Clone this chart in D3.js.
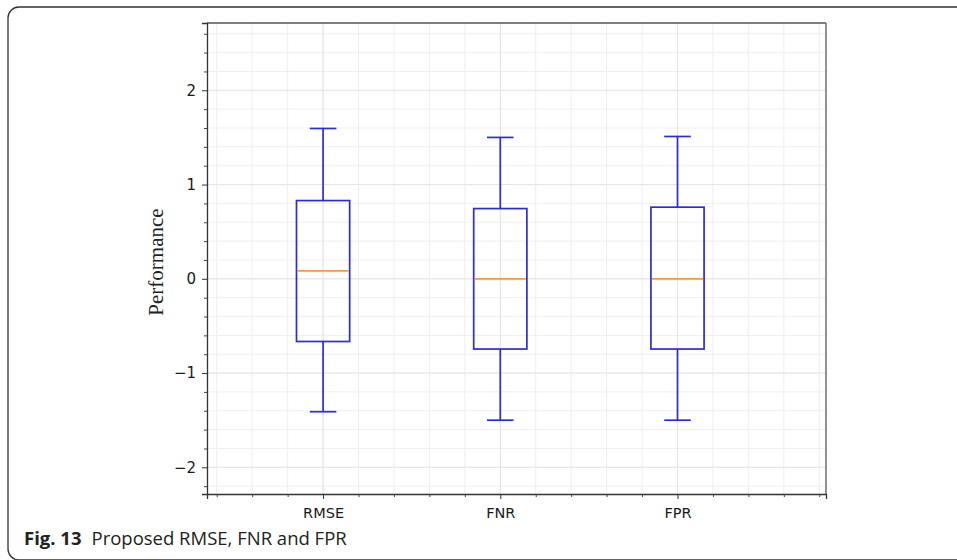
<!DOCTYPE html>
<html><head><meta charset="utf-8">
<script src="https://cdn.jsdelivr.net/npm/d3@7"></script>
<style>body{margin:0;background:#fff}</style>
</head><body>
<svg id="c" width="957" height="560"></svg>
<script>
const categories = ["RMSE", "FNR", "FPR"];
const whiskerLow = [-1.41, -1.50, -1.50];
const q1 = [-0.665, -0.745, -0.745];
const median = [0.085, 0.0, 0.0];
const q3 = [0.83, 0.745, 0.76];
const whiskerHigh = [1.595, 1.50, 1.51];
const yTicks = [-2, -1, 0, 1, 2];

(function () {
const svg = d3.select("#c");
const pL = 207, pR = 826, pT = 23, pB = 494;
const x = d3.scaleLinear().domain([0.345, 3.838]).range([pL, pR]);
const y = d3.scaleLinear().domain([-2.283, 2.714]).range([pB, pT]);

svg.append("rect").attr("x", 8).attr("y", 7).attr("width", 1000).attr("height", 553)
  .attr("rx", 11).attr("fill", "none").attr("stroke", "#333").attr("stroke-width", 1.3);

const xMinor = d3.range(0.4, 3.81, 0.2).map(v => +v.toFixed(1));
const yMinor = d3.range(-2.2, 2.61, 0.2).map(v => +v.toFixed(1));

const g = svg.append("g");
g.selectAll(".gx").data(xMinor).join("line")
  .attr("x1", d => x(d)).attr("x2", d => x(d)).attr("y1", pT).attr("y2", pB)
  .attr("stroke", "#efefef").attr("stroke-width", 1);
g.selectAll(".gy").data(yMinor).join("line")
  .attr("y1", d => y(d)).attr("y2", d => y(d)).attr("x1", pL).attr("x2", pR)
  .attr("stroke", "#efefef").attr("stroke-width", 1);
g.selectAll(".mx").data([1,2,3]).join("line")
  .attr("x1", d => x(d)).attr("x2", d => x(d)).attr("y1", pT).attr("y2", pB)
  .attr("stroke", "#e4e4e4").attr("stroke-width", 1);
g.selectAll(".my").data(yTicks).join("line")
  .attr("y1", d => y(d)).attr("y2", d => y(d)).attr("x1", pL).attr("x2", pR)
  .attr("stroke", "#e4e4e4").attr("stroke-width", 1);

const boxW = 0.3, capW = 0.15;
const blue = "#2b2bdc", orange = "#f59a3c";
categories.forEach((c, i) => {
  const p = i + 1;
  const bg = svg.append("g").attr("fill", "none").attr("stroke-width", 1.7);
  bg.append("line").attr("x1", x(p)).attr("x2", x(p)).attr("y1", y(q3[i])).attr("y2", y(whiskerHigh[i])).attr("stroke", blue);
  bg.append("line").attr("x1", x(p)).attr("x2", x(p)).attr("y1", y(q1[i])).attr("y2", y(whiskerLow[i])).attr("stroke", blue);
  bg.append("line").attr("x1", x(p - capW/2)).attr("x2", x(p + capW/2)).attr("y1", y(whiskerHigh[i])).attr("y2", y(whiskerHigh[i])).attr("stroke", blue);
  bg.append("line").attr("x1", x(p - capW/2)).attr("x2", x(p + capW/2)).attr("y1", y(whiskerLow[i])).attr("y2", y(whiskerLow[i])).attr("stroke", blue);
  bg.append("rect").attr("x", x(p - boxW/2)).attr("width", x(p + boxW/2) - x(p - boxW/2))
    .attr("y", y(q3[i])).attr("height", y(q1[i]) - y(q3[i])).attr("stroke", blue);
  bg.append("line").attr("x1", x(p - boxW/2) + 1).attr("x2", x(p + boxW/2) - 1).attr("y1", y(median[i])).attr("y2", y(median[i])).attr("stroke", orange);
});

svg.append("line").attr("x1", pL).attr("x2", pR).attr("y1", pT).attr("y2", pT).attr("stroke", "#555").attr("stroke-width", 1.3);
svg.append("line").attr("x1", pR).attr("x2", pR).attr("y1", pT).attr("y2", pB).attr("stroke", "#777").attr("stroke-width", 1.6);

const yAxis = d3.axisLeft(y).tickValues(yTicks).tickSize(5).tickPadding(6)
  .tickFormat(d => d < 0 ? "\u2212" + Math.abs(d) : String(d));
const ya = svg.append("g").attr("transform", `translate(${pL},0)`).call(yAxis);
ya.select(".domain").attr("stroke", "#333").attr("stroke-width", 1.3);
ya.selectAll(".tick line").attr("stroke", "#333");
ya.selectAll("text").attr("font-family", "DejaVu Sans").attr("font-size", 15).attr("fill", "#1a1a1a");
const yMin = d3.axisLeft(y).tickValues(yMinor.filter(v => !yTicks.includes(v))).tickSize(3).tickFormat("");
const ym = svg.append("g").attr("transform", `translate(${pL},0)`).call(yMin);
ym.select(".domain").remove();
ym.selectAll(".tick line").attr("stroke", "#444");

const xAxis = d3.axisBottom(x).tickValues([1,2,3]).tickSize(5).tickPadding(9)
  .tickFormat(d => categories[d - 1]);
const xa = svg.append("g").attr("transform", `translate(0,${pB})`).call(xAxis);
xa.select(".domain").attr("stroke", "#333").attr("stroke-width", 1.3);
xa.selectAll(".tick line").attr("stroke", "#333");
xa.selectAll("text").attr("font-family", "DejaVu Sans").attr("font-size", 14.5).attr("fill", "#1a1a1a");
const xMin = d3.axisBottom(x).tickValues(xMinor.filter(v => ![1,2,3].includes(v))).tickSize(3).tickFormat("");
const xm = svg.append("g").attr("transform", `translate(0,${pB})`).call(xMin);
xm.select(".domain").remove();
xm.selectAll(".tick line").attr("stroke", "#444");

svg.append("text").attr("transform", "translate(163,262) rotate(-90)")
  .attr("text-anchor", "middle").attr("font-family", "Liberation Serif").attr("font-size", 21)
  .attr("fill", "#222").text("Performance");

const cap = svg.append("text").attr("x", 24).attr("y", 545).attr("font-family", "Open Sans")
  .attr("font-size", 18.5).attr("fill", "#222");
cap.append("tspan").attr("font-weight", "bold").text("Fig. 13");
cap.append("tspan").attr("dx", 10).text("Proposed RMSE, FNR and FPR");
})();
</script>
</body></html>
